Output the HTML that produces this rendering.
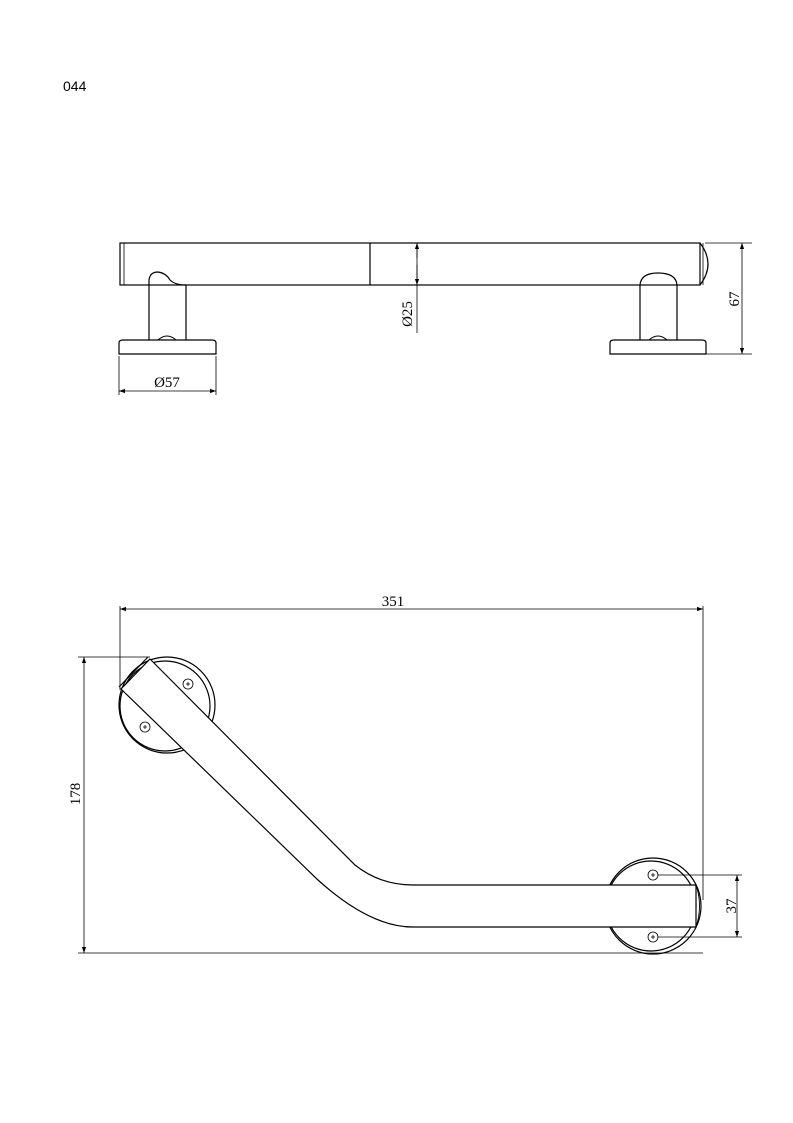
<!DOCTYPE html>
<html><head><meta charset="utf-8"><style>html,body{margin:0;padding:0;background:#fff}svg{display:block}</style></head>
<body>
<svg width="793" height="1123" viewBox="0 0 793 1123" xmlns="http://www.w3.org/2000/svg">
<defs>
<marker id="a" viewBox="0 0 10 10" refX="10" refY="5" markerWidth="9" markerHeight="6" orient="auto-start-reverse" markerUnits="userSpaceOnUse"><path d="M0,1.5 L10,5 L0,8.5 Z" fill="#000"/></marker>
</defs>
<text x="63" y="91" font-family="Liberation Sans, sans-serif" font-size="14">044</text>
<g fill="none" stroke="#000" stroke-width="1.2">
<rect x="120" y="243" width="580" height="42"/>
<line x1="124" y1="243" x2="124" y2="285" stroke-width="0.8"/>
<line x1="370" y1="243" x2="370" y2="285"/>
<path d="M700,243 Q716,264 700,285"/>
<line x1="703" y1="243" x2="703" y2="285" stroke-width="0.8"/>
<path d="M149,340 L149,280 Q150,272 158,272 Q166,273 170,280 Q175,285 186,285 L186,340"/>
<path d="M640,340 L640,285 Q641,273 658,273 Q676,273 677,285 L677,340"/>
<path d="M119,354 L119,343 Q119,340 123,340 L212,340 Q216,340 216,343 L216,354 Z"/>
<path d="M610,354 L610,343 Q610,340 614,340 L702,340 Q706,340 706,343 L706,354 Z"/>
<path d="M158,340 Q167,332 176,340" stroke-width="0.9"/>
<path d="M649,340 Q658,332 667,340" stroke-width="0.9"/>
</g>
<g fill="none" stroke="#000" stroke-width="0.8">
<line x1="417" y1="243" x2="417" y2="333" />
<line x1="417" y1="258" x2="417" y2="243" marker-end="url(#a)"/>
<line x1="417" y1="265" x2="417" y2="285" marker-end="url(#a)"/>
<line x1="705" y1="243" x2="752" y2="243"/>
<line x1="706" y1="354" x2="752" y2="354"/>
<line x1="742" y1="243" x2="742" y2="354" marker-start="url(#a)" marker-end="url(#a)"/>
<line x1="119" y1="356" x2="119" y2="395"/>
<line x1="216" y1="356" x2="216" y2="395"/>
<line x1="119" y1="391" x2="216" y2="391" marker-start="url(#a)" marker-end="url(#a)"/>
</g>
<g font-family="Liberation Serif, serif" font-size="15" fill="#000">
<text x="167" y="387" text-anchor="middle">Ø57</text>
<text transform="translate(412,314) rotate(-90)" text-anchor="middle">Ø25</text>
<text transform="translate(739,299) rotate(-90)" text-anchor="middle">67</text>
<text x="393" y="606" text-anchor="middle">351</text>
<text transform="translate(80,794) rotate(-90)" text-anchor="middle">178</text>
<text transform="translate(736,906) rotate(-90)" text-anchor="middle">37</text>
</g>
<g fill="none" stroke="#000" stroke-width="1.2">
<circle cx="167" cy="705" r="48"/>
<circle cx="165" cy="706" r="45"/>
<circle cx="653" cy="906" r="48"/>
<circle cx="651" cy="906" r="45"/>
<path d="M150,659 L355,865 Q380,885 413,885 L696,885 L696,927 L413,927 Q370,927 318,880 L121,689 Z" fill="#fff"/>
<line x1="148" y1="657" x2="119" y2="687"/>
<path d="M696,885 Q703,906 696,927" stroke-width="0.9"/>
</g>
<g fill="none" stroke="#000" stroke-width="0.8">
<circle cx="188" cy="684" r="5"/><circle cx="145" cy="727" r="5"/>
<circle cx="653" cy="875" r="5"/><circle cx="653" cy="937" r="5"/>
<path d="M186,684h4M188,682v4M143,727h4M145,725v4M651,875h4M653,873v4M651,937h4M653,935v4"/>
<line x1="120" y1="606" x2="120" y2="690"/>
<line x1="703" y1="606" x2="703" y2="900"/>
<line x1="120" y1="609" x2="703" y2="609" marker-start="url(#a)" marker-end="url(#a)"/>
<line x1="78" y1="657" x2="150" y2="657"/>
<line x1="78" y1="953" x2="703" y2="953"/>
<line x1="84" y1="657" x2="84" y2="953" marker-start="url(#a)" marker-end="url(#a)"/>
<line x1="658" y1="875" x2="742" y2="875"/>
<line x1="658" y1="937" x2="742" y2="937"/>
<line x1="737" y1="875" x2="737" y2="937" marker-start="url(#a)" marker-end="url(#a)"/>
</g>
</svg>
</body></html>
